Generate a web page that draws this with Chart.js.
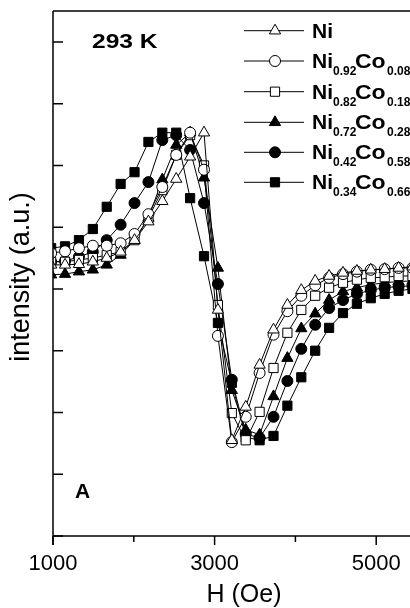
<!DOCTYPE html>
<html>
<head>
<meta charset="utf-8">
<script src="https://cdn.jsdelivr.net/npm/chart.js@4.4.1/dist/chart.umd.min.js"></script>
<style>
  html, body { margin: 0; padding: 0; background: #fff; overflow: hidden; }
  #wrap { position: relative; width: 470px; height: 608px; }
</style>
</head>
<body>
<div id="wrap"><canvas id="chart"></canvas></div>
<script>
// field sweep (Oe), shared by all samples
const field = [977, 1149, 1321, 1493, 1665, 1837, 2009, 2181, 2353, 2525, 2697, 2869, 3041, 3213,
  3385, 3557, 3729, 3901, 4073, 4245, 4417, 4589, 4761, 4933, 5105, 5277, 5449];

// intensity (a.u.)
const ni = [4.39, 4.39, 4.40, 4.44, 4.50, 4.60, 4.79, 5.09, 5.42, 5.78, 6.14, 6.53, 3.66, 1.55,
  2.09, 2.77, 3.34, 3.74, 3.98, 4.13, 4.21, 4.26, 4.29, 4.31, 4.32, 4.34, 4.36];
const ni92 = [4.58, 4.61, 4.66, 4.70, 4.70, 4.74, 4.89, 5.21, 5.65, 6.17, 6.53, 5.93, 3.24, 1.52,
  1.93, 2.64, 3.26, 3.64, 3.89, 4.06, 4.18, 4.24, 4.28, 4.31, 4.32, 4.34, 4.34];
const ni82 = [4.44, 4.44, 4.47, 4.50, 4.55, 4.60, 4.79, 5.15, 5.60, 6.17, 6.49, 6.00, 3.74, 1.99,
  1.55, 2.01, 2.72, 3.29, 3.66, 3.89, 4.02, 4.10, 4.15, 4.18, 4.19, 4.21, 4.21];
const ni72 = [4.23, 4.24, 4.28, 4.31, 4.39, 4.55, 4.79, 5.15, 5.77, 6.33, 6.53, 5.80, 4.34, 2.36,
  1.72, 1.64, 2.26, 2.88, 3.36, 3.60, 3.82, 3.96, 4.02, 4.07, 4.10, 4.12, 4.13];
const ni42 = [4.44, 4.45, 4.52, 4.60, 4.79, 5.04, 5.39, 5.73, 6.41, 6.49, 6.25, 5.39, 4.08, 2.53,
  1.65, 1.59, 1.93, 2.51, 3.03, 3.42, 3.69, 3.82, 3.92, 3.98, 4.02, 4.04, 4.05];
const ni34 = [4.66, 4.69, 4.79, 4.97, 5.33, 5.70, 5.89, 6.38, 6.53, 6.53, 5.47, 4.53, 3.45, 2.48,
  1.60, 1.55, 1.62, 2.11, 2.57, 3.00, 3.37, 3.61, 3.76, 3.85, 3.92, 3.97, 4.00];

// legend: [Ni sub, Co sub] ('' = pure Ni)
const labels = [['', ''], ['0.92', '0.08'], ['0.82', '0.18'], ['0.72', '0.28'], ['0.42', '0.58'], ['0.34', '0.66']];
const series = [ni, ni92, ni82, ni72, ni42, ni34];
const styles = [
  { pointStyle: 'triangle', radius: 6.5, fill: '#fff' },
  { pointStyle: 'circle', radius: 5.5, fill: '#fff' },
  { pointStyle: 'rect', radius: 6.5, fill: '#fff' },
  { pointStyle: 'triangle', radius: 6.5, fill: '#000' },
  { pointStyle: 'circle', radius: 5.5, fill: '#000' },
  { pointStyle: 'rect', radius: 6.5, fill: '#000' }
];

const xTicks = [1000, 2000, 3000, 4000, 5000];
const xLabels = [1000, 3000, 5000];
const yTicks = [0, 1, 2, 3, 4, 5, 6, 7, 8];

const FONT = '"Liberation Sans", Arial, sans-serif';

const datasets = series.map((vals, i) => ({
  label: 'Ni' + labels[i][0] + (labels[i][1] ? 'Co' + labels[i][1] : ''),
  data: field.map((h, k) => ({ x: h, y: vals[k] })),
  borderColor: '#000',
  borderWidth: 1,
  backgroundColor: styles[i].fill,
  pointBackgroundColor: styles[i].fill,
  pointBorderColor: '#000',
  pointBorderWidth: 1,
  pointStyle: styles[i].pointStyle,
  pointRadius: styles[i].radius,
  tension: 0,
  clip: { left: 0, top: 10, right: 10, bottom: 10 }
}));

// draws a bit of text squeezed/stretched horizontally
function wideText(ctx, txt, x, y, sx) {
  ctx.save();
  ctx.translate(x, y);
  ctx.scale(sx, 1);
  ctx.fillText(txt, 0, 0);
  ctx.restore();
}

const frame = {
  id: 'frame',
  afterDatasetsDraw(chart) {
    const ctx = chart.ctx;
    const a = chart.chartArea;
    const xs = chart.scales.x, ys = chart.scales.y;
    ctx.save();
    ctx.strokeStyle = '#000';
    ctx.fillStyle = '#000';
    ctx.lineWidth = 1.5;
    ctx.beginPath();
    ctx.moveTo(a.left, a.top); ctx.lineTo(a.right, a.top);
    ctx.moveTo(a.left, a.top); ctx.lineTo(a.left, a.bottom + 9);
    ctx.moveTo(a.left, a.bottom); ctx.lineTo(a.right, a.bottom);
    ctx.moveTo(a.right, a.top); ctx.lineTo(a.right, a.bottom);
    ctx.stroke();
    // y ticks, pointing inward
    ctx.beginPath();
    yTicks.forEach(v => {
      const y = ys.getPixelForValue(v);
      ctx.moveTo(a.left, y); ctx.lineTo(a.left + 10, y);
    });
    // x ticks, pointing outward
    xTicks.forEach(v => {
      const x = xs.getPixelForValue(v);
      const len = xLabels.includes(v) ? 9 : 6;
      ctx.moveTo(x, a.bottom); ctx.lineTo(x, a.bottom + len);
    });
    ctx.stroke();

    // axis titles
    ctx.font = '27px ' + FONT;
    ctx.textAlign = 'center';
    ctx.textBaseline = 'alphabetic';
    ctx.save();
    ctx.translate(29, 277);
    ctx.rotate(-Math.PI / 2);
    ctx.fillText('intensity (a.u.)', 0, 0);
    ctx.restore();
    ctx.font = '25px ' + FONT;
    ctx.fillText('H (Oe)', 244, 602);

    // annotations
    ctx.textAlign = 'left';
    ctx.font = 'bold 21px ' + FONT;
    wideText(ctx, '293 K', 92, 48, 1.17);
    ctx.fillText('A', 75, 498);

    // legend
    const rowY = [30.7, 61, 91.7, 122.3, 152.3, 182.3];
    labels.forEach((lab, i) => {
      const y = rowY[i];
      ctx.lineWidth = 1;
      ctx.strokeStyle = '#000';
      ctx.beginPath();
      ctx.moveTo(244, y); ctx.lineTo(304, y);
      ctx.stroke();
      ctx.fillStyle = styles[i].fill;
      Chart.helpers.drawPoint(ctx, {
        pointStyle: styles[i].pointStyle, radius: styles[i].radius, borderWidth: 1, rotation: 0
      }, 275, y);
      ctx.fillStyle = '#000';
      ctx.font = 'bold 20px ' + FONT;
      wideText(ctx, 'Ni', 312, y + 7, 1.05);
      if (lab[1]) {
        ctx.font = 'bold 12px ' + FONT;
        ctx.fillText(lab[0], 333, y + 14);
        ctx.font = 'bold 20px ' + FONT;
        wideText(ctx, 'Co', 355, y + 7, 1.15);
        ctx.font = 'bold 12px ' + FONT;
        ctx.fillText(lab[1], 387, y + 14);
      }
    });
    ctx.restore();
  }
};

new Chart(document.getElementById('chart'), {
  type: 'line',
  data: { datasets: datasets },
  plugins: [frame],
  options: {
    responsive: true,
    maintainAspectRatio: false,
    animation: false,
    events: [],
    layout: { padding: { top: 11, right: 13, bottom: 0, left: 0 } },
    plugins: { legend: { display: false }, tooltip: { enabled: false } },
    scales: {
      x: {
        type: 'linear',
        min: 1000,
        max: 6000,
        grid: { display: false, drawTicks: false },
        border: { display: false },
        afterFit: s => { s.height = 72; },
        afterBuildTicks: s => { s.ticks = xTicks.map(v => ({ value: v })); },
        ticks: {
          autoSkip: false,
          maxRotation: 0,
          padding: 15,
          color: '#000',
          font: { family: FONT, size: 22 },
          callback: v => (xLabels.includes(v) ? String(v) : '')
        }
      },
      y: {
        type: 'linear',
        min: 0,
        max: 8.5,
        grid: { display: false, drawTicks: false },
        border: { display: false },
        ticks: { display: false, stepSize: 1 },
        afterFit: s => { s.width = 53; }
      }
    }
  }
});
</script>
</body>
</html>
